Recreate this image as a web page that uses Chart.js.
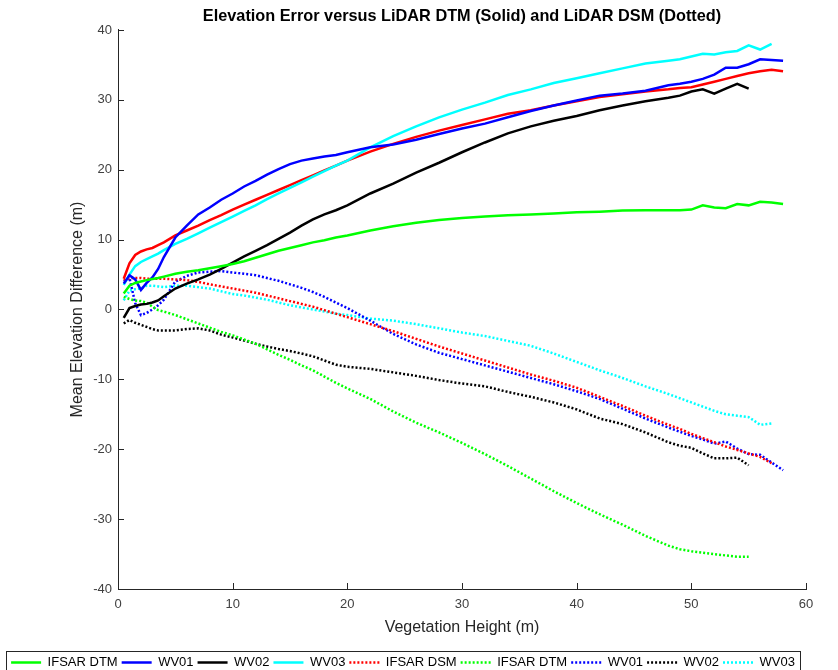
<!DOCTYPE html>
<html><head><meta charset="utf-8">
<script src="https://cdn.jsdelivr.net/npm/chart.js@4.4.1/dist/chart.umd.min.js"></script>
<style>html,body{margin:0;padding:0;overflow:hidden;background:#fff}#wrap{width:838px;height:679px;position:relative}</style>
</head><body><div id="wrap"><canvas id="c"></canvas></div>
<script>
// Vegetation height (m) sample positions
const vegetationHeight = [0.5,1,1.5,2,2.5,3,3.5,4, 5,6,7,8,9,10,11,12,13,14,15,16,17,18,19,20, 22,24,26,28,30,32,34,36,38,40,42,44,46,48, 49,50,51,52,53,54,55,56,57,58];

// Solid: error versus LiDAR DTM
const ifsarDtmSolid = [2.3,3.4,3.8,4.0,4.2,4.35,4.5,4.7, 5.1,5.4,5.6,5.9,6.2,6.5,6.9,7.4,7.9,8.4,8.8,9.2,9.6,9.9,10.3,10.6, 11.3,11.9,12.4,12.8,13.1,13.3,13.5,13.6,13.75,13.9,14.0,14.15,14.2,14.2, 14.2,14.3,14.9,14.6,14.5,15.1,14.9,15.4,15.3,15.1];
const wv01Solid = [3.7,4.9,4.3,2.8,3.8,4.6,5.8,7.5, 10.3,12.0,13.6,14.6,15.7,16.6,17.6,18.4,19.3,20.1,20.8,21.3,21.6,21.9,22.1,22.5, 23.2,23.6,24.3,25.1,25.9,26.6,27.5,28.4,29.2,29.9,30.6,30.9,31.3,32.1, 32.3,32.6,33.0,33.6,34.6,34.6,35.1,35.8,35.7,35.6];
const wv02Solid = [-1.2,0.2,0.5,0.7,0.8,1.0,1.3,1.9, 3.0,3.7,4.3,5.0,5.8,6.7,7.6,8.4,9.2,10.1,11.0,12.0,12.9,13.6,14.2,14.9, 16.6,18.0,19.6,21.0,22.5,23.9,25.2,26.2,27.0,27.7,28.5,29.2,29.8,30.3, 30.6,31.2,31.5,30.9,31.6,32.3,31.6,null,null,null];
const wv03Solid = [3.5,5.0,6.2,6.8,7.2,7.6,8.0,8.5, 9.4,10.1,10.9,11.7,12.5,13.3,14.1,14.9,15.8,16.6,17.4,18.2,19.0,19.8,20.6,21.3, 23.2,24.8,26.2,27.5,28.6,29.6,30.7,31.5,32.4,33.1,33.8,34.5,35.2,35.6, 35.8,36.2,36.6,36.5,36.8,37.0,37.8,37.2,38.0,null];
const ifsarDsmSolid = [4.4,6.6,7.8,8.3,8.6,8.8,9.2,9.6, 10.6,11.3,12.0,12.8,13.5,14.3,15.0,15.7,16.4,17.1,17.8,18.5,19.2,19.9,20.6,21.3, 22.6,23.7,24.7,25.6,26.4,27.2,28.0,28.5,29.2,29.8,30.4,30.8,31.2,31.5, 31.7,31.8,32.2,32.6,33.0,33.4,33.8,34.1,34.3,34.1];

// Dotted: error versus LiDAR DSM
const ifsarDsmDotted = [4.2,4.5,4.5,4.5,4.4,4.4,4.4,4.4, 4.3,4.2,3.95,3.6,3.3,3.0,2.7,2.4,2.0,1.6,1.2,0.8,0.4,-0.1,-0.6,-1.1, -2.1,-3.1,-4.2,-5.3,-6.3,-7.3,-8.3,-9.3,-10.2,-11.2,-12.5,-13.8,-15.2,-16.5, -17.1,-17.8,-18.4,-19.0,-19.6,-20.1,-20.6,-21.1,-22.0,null];
const ifsarDtmDotted = [1.8,1.5,1.3,1.2,1.0,0.4,-0.1,-0.3, -0.8,-1.4,-2.0,-2.6,-3.2,-3.7,-4.3,-4.9,-5.7,-6.5,-7.2,-8.0,-8.7,-9.6,-10.5,-11.3, -12.8,-14.6,-16.2,-17.6,-19.1,-20.7,-22.4,-24.2,-26.0,-27.7,-29.3,-30.8,-32.4,-33.8, -34.3,-34.6,-34.8,-35.0,-35.2,-35.4,-35.4,null,null,null];
const wv01Dotted = [4.0,4.5,0.9,-0.8,-0.5,0.0,0.6,1.4, 4.0,4.8,5.3,5.4,5.5,5.3,5.1,4.9,4.5,4.1,3.6,3.1,2.5,1.8,1.0,0.2, -1.6,-3.5,-5.0,-6.2,-7.1,-8.0,-8.9,-9.8,-10.7,-11.7,-12.8,-14.2,-15.6,-16.9, -17.5,-18.1,-18.6,-19.2,-18.9,-19.9,-20.7,-20.8,-21.9,-23.0];
const wv02Dotted = [-2.0,-1.5,-1.9,-2.2,-2.5,-2.8,-3.0,-3.0, -3.0,-2.8,-2.7,-3.0,-3.6,-4.0,-4.45,-4.9,-5.3,-5.65,-5.95,-6.3,-6.7,-7.3,-7.9,-8.2, -8.5,-9.0,-9.5,-10.1,-10.6,-11.0,-11.8,-12.5,-13.3,-14.3,-15.6,-16.4,-17.6,-19.0, -19.5,-19.8,-20.6,-21.3,-21.3,-21.2,-22.3,null,null,null];
const wv03Dotted = [1.3,2.7,2.9,3.0,3.4,3.4,3.3,3.2, 3.4,3.4,3.2,3.0,2.6,2.2,2.0,1.7,1.4,1.0,0.6,0.3,0.0,-0.3,-0.6,-0.8, -1.3,-1.6,-2.1,-2.7,-3.3,-3.8,-4.5,-5.2,-6.3,-7.5,-8.7,-9.8,-11.0,-12.1, -12.7,-13.3,-13.9,-14.5,-15.0,-15.2,-15.4,-16.5,-16.3,null];

const xTickValues = [0,10,20,30,40,50,60];
const yTickValues = [-40,-30,-20,-10,0,10,20,30,40];

const seriesNames = ['IFSAR DTM','WV01','WV02','WV03','IFSAR DSM','IFSAR DTM','WV01','WV02','WV03','IFSAR DSM'];

const pts = ys => vegetationHeight.map((x,i)=>({x:x, y:ys[i]}));
const FONT = "'Liberation Sans', Arial, Helvetica, sans-serif";
Chart.defaults.font.family = FONT;

function solid(label, ys, color, hide){
  return {label, data: pts(ys), borderColor: color, backgroundColor: color, borderWidth: 2.5, borderDash: [], pointRadius: 0, fill: false, tension: 0, hideInLegend: !!hide};
}
function dotted(label, ys, color){
  return {label, data: pts(ys), borderColor: color, backgroundColor: color, borderWidth: 2.5, borderDash: [2,2], pointRadius: 0, fill: false, tension: 0};
}

const datasets = [
  solid(seriesNames[0], ifsarDtmSolid, '#00ff00'),
  solid(seriesNames[1], wv01Solid, '#0000ff'),
  solid(seriesNames[2], wv02Solid, '#000000'),
  solid(seriesNames[3], wv03Solid, '#00ffff'),
  dotted(seriesNames[4], ifsarDsmDotted, '#ff0000'),
  dotted(seriesNames[5], ifsarDtmDotted, '#00ff00'),
  dotted(seriesNames[6], wv01Dotted, '#0000ff'),
  dotted(seriesNames[7], wv02Dotted, '#000000'),
  dotted(seriesNames[8], wv03Dotted, '#00ffff'),
  solid(seriesNames[9], ifsarDsmSolid, '#ff0000', true)
];

const inwardTicks = {
  id: 'inwardTicks',
  afterDatasetsDraw(chart){
    const {ctx, chartArea: a, scales: {x, y}} = chart;
    ctx.save();
    ctx.strokeStyle = '#262626'; ctx.lineWidth = 1;
    ctx.beginPath();
    x.ticks.forEach(t => { const p = Math.round(x.getPixelForValue(t.value)) + 0.5; ctx.moveTo(p, a.bottom); ctx.lineTo(p, a.bottom - 6); });
    y.ticks.forEach(t => { const p = Math.round(y.getPixelForValue(t.value)) + 0.5; ctx.moveTo(a.left, p); ctx.lineTo(a.left + 6, p); });
    ctx.stroke();
    ctx.restore();
  }
};
const legendFrame = {
  id: 'legendFrame',
  afterDraw(chart){
    const lg = chart.legend; if (!lg || !lg.legendHitBoxes || !lg.legendHitBoxes.length) return;
    const hb = lg.legendHitBoxes, ctx = chart.ctx;
    const l = Math.min(...hb.map(h=>h.left)) - 5;
    const r = Math.max(...hb.map(h=>h.left + h.width)) + 5;
    const c = hb[0].top + hb[0].height/2;
    ctx.save(); ctx.strokeStyle = '#262626'; ctx.lineWidth = 1;
    ctx.strokeRect(Math.round(l)+0.5, Math.round(c-12)+0.5, Math.round(r-l), 30);
    ctx.restore();
  }
};

new Chart(document.getElementById('c'), {
  type: 'line',
  data: { datasets },
  options: {
    responsive: true, maintainAspectRatio: false, animation: false, devicePixelRatio: 1,
    layout: { padding: { left: 0, right: 32, top: 0, bottom: 0 } },
    plugins: {
      title: { display: true, text: 'Elevation Error versus LiDAR DTM (Solid) and LiDAR DSM (Dotted)', fullSize: false,
        color: '#000', font: { size: 16.3, weight: 'bold', family: FONT }, padding: { top: 7.2, bottom: 3.2 } },
      legend: { display: true, position: 'bottom', fullSize: true,
        labels: { usePointStyle: true, pointStyle: 'line', pointStyleWidth: 30, padding: 4, color: '#000',
          font: { size: 13, family: FONT },
          filter: (item, data) => !data.datasets[item.datasetIndex].hideInLegend,
          generateLabels: chart => {
            const items = Chart.defaults.plugins.legend.labels.generateLabels(chart);
            items.forEach(it => {
              const ds = chart.data.datasets[it.datasetIndex];
              it.lineDash = ds.borderDash || [];
              it.lineWidth = ds.borderWidth;
              it.strokeStyle = ds.borderColor;
            });
            return items;
          } } },
      tooltip: { enabled: false }
    },
    scales: {
      x: { type: 'linear', position: 'bottom', min: 0, max: 60,
        afterBuildTicks: s => { s.ticks = xTickValues.map(v => ({value: v})); },
        afterFit: s => { s.height = 63; },
        grid: { display: false, drawTicks: false },
        border: { display: true, color: '#262626', width: 1 },
        ticks: { color: '#404040', font: { size: 13 }, padding: 8, maxRotation: 0 },
        title: { display: true, text: 'Vegetation Height (m)', color: '#262626', font: { size: 16 }, padding: { top: 0, bottom: 14.4 } } },
      y: { type: 'linear', position: 'left', min: -40, max: 40,
        afterBuildTicks: s => { s.ticks = yTickValues.map(v => ({value: v})); },
        afterFit: s => { s.width = 118; },
        grid: { display: false, drawTicks: false },
        border: { display: true, color: '#262626', width: 1 },
        ticks: { color: '#404040', font: { size: 13 }, padding: 6 },
        title: { display: true, text: 'Mean Elevation Difference (m)', color: '#262626', font: { size: 16 }, padding: { top: 68.4, bottom: 0 } } }
    }
  },
  plugins: [inwardTicks, legendFrame]
});
</script></body></html>
